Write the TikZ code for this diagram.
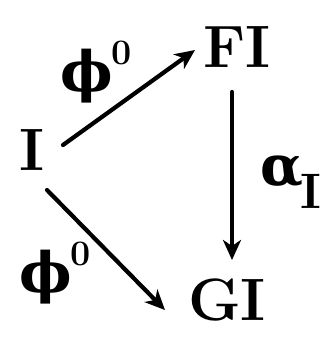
\documentclass[tikz,border=0pt]{standalone}
\usepackage{fontspec}
\newfontfamily\grk{DejaVu Serif}
\usetikzlibrary{arrows.meta,calc}
\newcommand{\phizero}{{\grk\bfseries\fontsize{56}{58}\selectfont ϕ}\kern-2bp\raisebox{0.6em}{\fontsize{36}{38}\selectfont\bfseries 0}}
\newcommand{\alphaI}{{\grk\bfseries\fontsize{56}{58}\selectfont α}\kern-3bp\raisebox{-0.5em}{\fontsize{50}{52}\selectfont\bfseries I}}
\begin{document}
\begin{tikzpicture}[x=1bp,y=-1bp,
  obj/.style={inner sep=0pt,font=\fontsize{60}{62}\selectfont\bfseries},
  lbl/.style={inner sep=0pt,font=\fontsize{46}{50}\selectfont},
  arr/.style={line width=4.2bp,line cap=round,-{Stealth[length=20bp,width=18bp,inset=6bp]}}]
\useasboundingbox (0,0) rectangle (334,337);
\node[obj] (I) at (32,150) {I};
\node[obj] (FI) at (237,47) {FI};
\node[obj] (GI) at (227,300) {GI};
\node[lbl] (l1) at (96,72) {\phizero};
\node[lbl] (l2) at (55,273) {\phizero};
\node[lbl] (l3) at (291,182) {\alphaI};
\draw[arr] ($(I)+(31,-5)$) -- ($(FI)+(-42,3)$);
\draw[arr] ($(I)+(15,40)$) -- ($(GI)+(-62,10)$);
\draw[arr] ($(FI)+(-5,45)$) -- ($(GI)+(5,-40)$);
\end{tikzpicture}
\end{document}
